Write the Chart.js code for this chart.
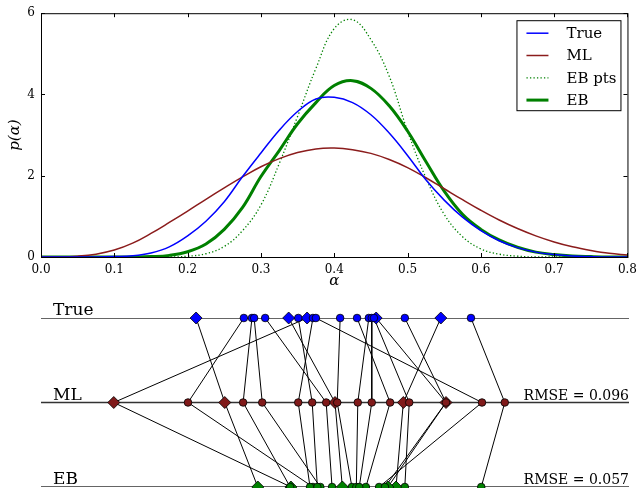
<!DOCTYPE html>
<html>
<head>
<meta charset="utf-8">
<script src="https://cdn.jsdelivr.net/npm/chart.js@4.4.1/dist/chart.umd.min.js"></script>
<style>
  html, body { margin: 0; padding: 0; background: #fff; }
  #wrap { position: relative; width: 643px; height: 488px; overflow: hidden; }
  #densityChart { position: absolute; left: 0; top: 0; }
  #shrinkChart { position: absolute; left: 0; top: 290px; }
</style>
</head>
<body>
<div id="wrap">
  <canvas id="densityChart" width="643" height="290"></canvas>
  <canvas id="shrinkChart" width="643" height="198"></canvas>
</div>
<script>
// density curves
const alphaGrid = [0, 0.025, 0.05, 0.075, 0.1, 0.125, 0.15, 0.175, 0.2, 0.225, 0.25, 0.275, 0.3, 0.325, 0.35, 0.375, 0.4, 0.425, 0.45, 0.475, 0.5, 0.525, 0.55, 0.575, 0.6, 0.625, 0.65, 0.675, 0.7, 0.725, 0.75, 0.775, 0.8];
const pTrue  = [0, 0, 0, 0, 0.01, 0.03, 0.1, 0.25, 0.52, 0.88, 1.36, 1.98, 2.56, 3.12, 3.58, 3.89, 3.93, 3.8, 3.5, 3.05, 2.5, 1.9, 1.4, 0.98, 0.65, 0.4, 0.23, 0.12, 0.06, 0.025, 0.01, 0, 0];
const pML    = [0, 0, 0.02, 0.07, 0.17, 0.34, 0.58, 0.85, 1.13, 1.42, 1.7, 1.97, 2.22, 2.42, 2.57, 2.66, 2.68, 2.64, 2.55, 2.4, 2.2, 1.95, 1.68, 1.41, 1.15, 0.91, 0.7, 0.52, 0.37, 0.25, 0.16, 0.09, 0.05];
const pEBpts = [0, 0, 0, 0, 0, 0, 0, 0, 0.02, 0.08, 0.26, 0.65, 1.28, 2.3, 3.46, 4.64, 5.62, 5.84, 5.35, 4.45, 3.1, 1.95, 1.05, 0.5, 0.2, 0.07, 0.02, 0, 0, 0, 0, 0, 0];
const pEB    = [0, 0, 0, 0, 0, 0, 0.01, 0.04, 0.13, 0.32, 0.68, 1.22, 1.98, 2.62, 3.28, 3.8, 4.22, 4.34, 4.15, 3.72, 3.1, 2.35, 1.62, 1.05, 0.68, 0.42, 0.24, 0.12, 0.06, 0.025, 0.01, 0, 0];

// per-sample estimates (alpha): true value, ML estimate, EB estimate
const trueAlpha = [0.211, 0.362, 0.337, 0.544, 0.456, 0.276, 0.287, 0.290, 0.305, 0.350, 0.370, 0.374, 0.407, 0.430, 0.446, 0.450, 0.453, 0.495, 0.585];
const mlAlpha   = [0.250, 0.099, 0.400, 0.493, 0.551, 0.200, 0.275, 0.301, 0.388, 0.369, 0.350, 0.600, 0.403, 0.475, 0.431, 0.450, 0.501, 0.551, 0.631];
const ebAlpha   = [0.295, 0.340, 0.410, 0.483, 0.472, 0.370, 0.339, 0.380, 0.396, 0.376, 0.366, 0.460, 0.423, 0.442, 0.429, 0.433, 0.495, 0.468, 0.599];
const marker    = ['D', 'D', 'D', 'D', 'D', 'o', 'o', 'o', 'o', 'o', 'o', 'o', 'o', 'o', 'o', 'o', 'o', 'o', 'o'];
const rowNames  = ['EB', 'ML', 'True'];
const rmse      = { ML: 0.096, EB: 0.057 };

const xTicks = [0, 0.1, 0.2, 0.3, 0.4, 0.5, 0.6, 0.7, 0.8];
const yTicks = [0, 2, 4, 6];

Chart.defaults.font.family = '"DejaVu Serif", serif';
Chart.defaults.color = '#000';

const toXY = arr => arr.map((v, i) => ({ x: alphaGrid[i], y: v }));

// matplotlib-like frame with inward ticks + legend box
const frameAndLegend = {
    id: 'frameAndLegend',
    afterDraw(chart) {
        const { ctx, chartArea: a, scales: { x, y } } = chart;
        ctx.save();
        ctx.strokeStyle = '#000';
        ctx.lineWidth = 1;
        ctx.strokeRect(a.left + 0.5, a.top + 0.5, a.right - a.left, a.bottom - a.top);
        ctx.beginPath();
        xTicks.forEach(t => {
            const px = Math.round(x.getPixelForValue(t)) + 0.5;
            ctx.moveTo(px, a.bottom); ctx.lineTo(px, a.bottom - 4);
            ctx.moveTo(px, a.top); ctx.lineTo(px, a.top + 4);
        });
        yTicks.forEach(t => {
            const py = Math.round(y.getPixelForValue(t)) + 0.5;
            ctx.moveTo(a.left, py); ctx.lineTo(a.left + 4, py);
            ctx.moveTo(a.right, py); ctx.lineTo(a.right - 4, py);
        });
        ctx.stroke();

        // legend
        const boxW = 104, boxH = 90;
        const bx = a.right - 7 - boxW, by = a.top + 7;
        ctx.fillStyle = '#fff';
        ctx.fillRect(bx, by, boxW, boxH);
        ctx.strokeRect(bx + 0.5, by + 0.5, boxW, boxH);
        ctx.font = '15px "DejaVu Serif", serif';
        ctx.textBaseline = 'middle';
        chart.data.datasets.forEach((ds, i) => {
            const cy = by + 13 + i * 22.3;
            ctx.beginPath();
            ctx.strokeStyle = ds.borderColor;
            ctx.lineWidth = ds.borderWidth;
            ctx.setLineDash(ds.borderDash || []);
            ctx.moveTo(bx + 10, cy); ctx.lineTo(bx + 32, cy);
            ctx.stroke();
            ctx.setLineDash([]);
            ctx.fillStyle = '#000';
            ctx.fillText(ds.label, bx + 50, cy + 1);
        });
        ctx.restore();
    }
};

new Chart(document.getElementById('densityChart'), {
    type: 'line',
    data: {
        datasets: [
            { label: 'True', data: toXY(pTrue), borderColor: '#0000ff', borderWidth: 1.5, pointRadius: 0, tension: 0.4 },
            { label: 'ML', data: toXY(pML), borderColor: '#8b1c1c', borderWidth: 1.5, pointRadius: 0, tension: 0.4 },
            { label: 'EB pts', data: toXY(pEBpts), borderColor: '#008000', borderWidth: 1.3, borderDash: [1.3, 2.2], pointRadius: 0, tension: 0.4 },
            { label: 'EB', data: toXY(pEB), borderColor: '#008000', borderWidth: 3, pointRadius: 0, tension: 0.4 }
        ]
    },
    options: {
        responsive: false,
        animation: false,
        layout: { padding: { top: 11, right: 14, left: 0, bottom: 0 } },
        plugins: { legend: { display: false }, tooltip: { enabled: false } },
        scales: {
            x: {
                type: 'linear', min: 0, max: 0.8,
                afterBuildTicks: s => { s.ticks = xTicks.map(v => ({ value: v })); },
                afterFit: s => { s.height = 33; },
                grid: { display: false, drawTicks: false },
                border: { display: false },
                ticks: { padding: 6, font: { size: 12 }, callback: v => v.toFixed(1), maxRotation: 0 },
                title: { display: true, text: 'α', font: { size: 15, style: 'italic' }, padding: { top: 0, bottom: 0 } }
            },
            y: {
                min: 0, max: 6,
                afterBuildTicks: s => { s.ticks = yTicks.map(v => ({ value: v })); },
                afterFit: s => { s.width = 41; },
                grid: { display: false, drawTicks: false },
                border: { display: false },
                ticks: { padding: 6, font: { size: 12 }, callback: v => String(v) },
                title: { display: true, text: 'p(α)', font: { size: 15, style: 'italic' }, padding: { top: 6, bottom: 0 } }
            }
        }
    },
    plugins: [frameAndLegend]
});

// bottom panel: True -> ML -> EB for every sample
const rowY = { True: 2, ML: 1, EB: 0 };
const styleOf = m => (m === 'D' ? 'rectRot' : 'circle');
const sizeOf = m => (m === 'D' ? 6 : 3.8);

const rowMarkers = (vals, row, color) => ({
    data: vals.map(v => ({ x: v, y: rowY[row] })),
    pointStyle: marker.map(styleOf),
    pointRadius: marker.map(sizeOf),
    backgroundColor: color,
    borderColor: '#000',
    borderWidth: 0.8,
    showLine: false,
    clip: false,
    order: 0
});

const connectors = [];
trueAlpha.forEach((t, i) => {
    connectors.push({ x: t, y: rowY.True }, { x: mlAlpha[i], y: rowY.ML }, { x: ebAlpha[i], y: rowY.EB }, { x: null, y: null });
});

const baseLines = [];
rowNames.forEach(r => {
    baseLines.push({ x: xTicks[0], y: rowY[r] }, { x: xTicks[xTicks.length - 1], y: rowY[r] }, { x: null, y: null });
});

const rowLabels = {
    id: 'rowLabels',
    afterDraw(chart) {
        const { ctx, chartArea: a, scales: { y } } = chart;
        ctx.save();
        ctx.fillStyle = '#000';
        ctx.textBaseline = 'alphabetic';
        rowNames.forEach(r => {
            const py = y.getPixelForValue(rowY[r]) - 3;
            ctx.textAlign = 'left';
            ctx.font = '17px "DejaVu Serif", serif';
            ctx.fillText(r, a.left + 12, py);
            if (rmse[r] !== undefined) {
                ctx.textAlign = 'right';
                ctx.font = '14px "DejaVu Serif", serif';
                ctx.fillText('RMSE = ' + rmse[r].toFixed(3), a.right, py);
            }
        });
        ctx.restore();
    }
};

new Chart(document.getElementById('shrinkChart'), {
    type: 'scatter',
    data: {
        datasets: [
            rowMarkers(trueAlpha, 'True', '#0000ff'),
            rowMarkers(mlAlpha, 'ML', '#801a1a'),
            rowMarkers(ebAlpha, 'EB', '#008000'),
            { data: connectors, showLine: true, borderColor: '#000', borderWidth: 1, pointRadius: 0, spanGaps: false, order: 1 },
            { data: baseLines, showLine: true, borderColor: '#333', borderWidth: 1.3, pointRadius: 0, spanGaps: false, order: 2 }
        ]
    },
    options: {
        responsive: false,
        animation: false,
        layout: { autoPadding: false, padding: { left: 41, right: 14, top: 28, bottom: 1 } },
        plugins: { legend: { display: false }, tooltip: { enabled: false } },
        scales: {
            x: { type: 'linear', min: 0, max: 0.8, display: false },
            y: { type: 'linear', min: 0, max: 2, display: false }
        }
    },
    plugins: [rowLabels]
});
</script>
</body>
</html>
